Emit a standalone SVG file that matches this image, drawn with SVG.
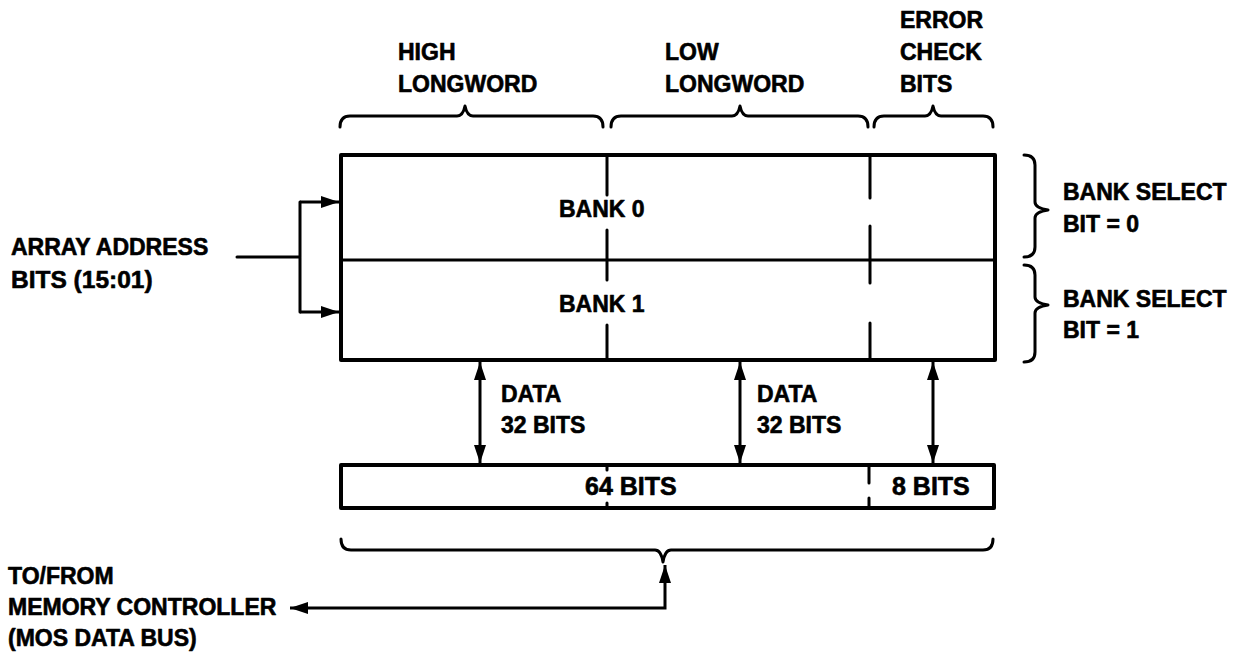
<svg xmlns="http://www.w3.org/2000/svg" width="1235" height="658" viewBox="0 0 1235 658">
<style>
.t{font-family:"Liberation Sans",Arial,sans-serif;font-weight:bold;font-size:23px;fill:#000;stroke:#000;stroke-width:0.6;stroke-linejoin:round}
.big{font-size:25px}
.box{fill:none;stroke:#000;stroke-width:4;stroke-linejoin:round}
.ln{fill:none;stroke:#000;stroke-width:3;stroke-linecap:round}
.br{fill:none;stroke:#000;stroke-width:3;stroke-linecap:round;stroke-linejoin:round}
.ar{fill:none;stroke:#000;stroke-width:3}
</style>
<defs>
<marker id="ah" markerUnits="userSpaceOnUse" markerWidth="20" markerHeight="14" refX="18" refY="7" orient="auto-start-reverse">
<path d="M0,1 L18,7 L0,13 Z" fill="#000"/>
</marker>
</defs>
<rect width="1235" height="658" fill="#fff"/>

<g id="array">
<rect class="box" x="341" y="155" width="654" height="205"/>
<line class="ln" x1="341" y1="260" x2="995" y2="260"/>
<path class="ln" d="M607,155 V195 M607,230 V280 M607,325 V360"/>
<path class="ln" d="M870,155 V198 M870,226 V283 M870,323 V360"/>
<text class="t" x="559" y="217">BANK 0</text>
<text class="t" x="559" y="312">BANK 1</text>
</g>

<g id="register">
<rect class="box" x="341" y="465" width="653" height="43"/>
<path class="ln" d="M607,465 V470 M607,503 V508"/>
<path class="ln" d="M869,465 V483 M869,498 V508"/>
<text class="t big" x="585" y="495">64 BITS</text>
<text class="t big" x="892" y="495">8 BITS</text>
</g>

<g id="labels-top">
<text class="t" x="398" y="60">HIGH</text>
<text class="t" x="398" y="92">LONGWORD</text>
<text class="t" x="665" y="60">LOW</text>
<text class="t" x="665" y="92">LONGWORD</text>
<text class="t" x="900" y="28">ERROR</text>
<text class="t" x="900" y="60">CHECK</text>
<text class="t" x="900" y="92">BITS</text>
</g>

<g id="braces">
<path class="br" d="M340,127 Q340,116 350,116 L457,116 Q463,116 465,106 Q467,116 473,116 L593,116 Q603,116 603,127"/>
<path class="br" d="M611,127 Q611,116 621,116 L732,116 Q738,116 740,106 Q742,116 748,116 L858,116 Q868,116 868,127"/>
<path class="br" d="M874,127 Q874,116 884,116 L925,116 Q931,116 933,106 Q935,116 941,116 L983,116 Q993,116 993,127"/>
<path class="br" d="M1024,155 Q1035,155 1035,165 L1035,202 Q1035,208 1048,210 Q1035,212 1035,218 L1035,247 Q1035,257 1024,257"/>
<path class="br" d="M1024,265 Q1035,265 1035,275 L1035,297 Q1035,303 1048,305 Q1035,307 1035,313 L1035,352 Q1035,362 1024,362"/>
<path class="br" d="M341,539 Q341,550 351,550 L655,550 Q661,550 663,562 Q665,550 671,550 L983,550 Q993,550 993,539"/>
</g>

<g id="labels-side">
<text class="t" x="1063" y="200">BANK SELECT</text>
<text class="t" x="1063" y="232">BIT = 0</text>
<text class="t" x="1063" y="307">BANK SELECT</text>
<text class="t" x="1063" y="338">BIT = 1</text>
<text class="t" x="11" y="255">ARRAY ADDRESS</text>
<text class="t" x="11" y="288" style="font-size:24.5px">BITS (15:01)</text>
<text class="t" x="501" y="402">DATA</text>
<text class="t" x="501" y="433">32 BITS</text>
<text class="t" x="757" y="402">DATA</text>
<text class="t" x="757" y="433">32 BITS</text>
<text class="t" x="8" y="584">TO/FROM</text>
<text class="t" x="8" y="615">MEMORY CONTROLLER</text>
<text class="t" x="8" y="646">(MOS DATA BUS)</text>
</g>

<g id="connectors">
<path class="ln" d="M237,257 H300 M300,202 V312"/>
<line class="ar" x1="300" y1="202" x2="339" y2="202" marker-end="url(#ah)"/>
<line class="ar" x1="300" y1="312" x2="339" y2="312" marker-end="url(#ah)"/>
<line class="ar" x1="480" y1="362" x2="480" y2="463" marker-start="url(#ah)" marker-end="url(#ah)"/>
<line class="ar" x1="740" y1="362" x2="740" y2="463" marker-start="url(#ah)" marker-end="url(#ah)"/>
<line class="ar" x1="933" y1="362" x2="933" y2="463" marker-start="url(#ah)" marker-end="url(#ah)"/>
<path class="ar" d="M665,565 V608 H290" marker-start="url(#ah)" marker-end="url(#ah)"/>
</g>
</svg>
